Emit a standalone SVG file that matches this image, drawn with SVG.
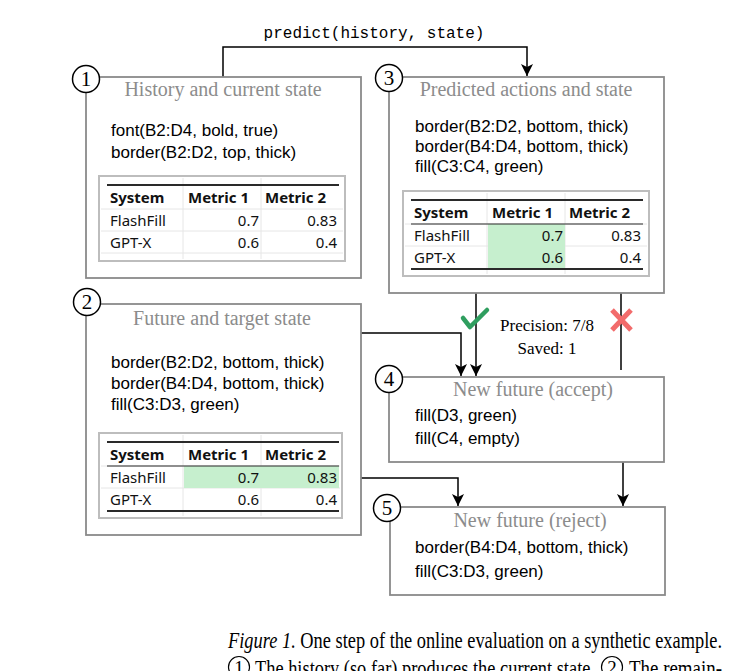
<svg xmlns="http://www.w3.org/2000/svg" width="740" height="671" viewBox="0 0 740 671">
<style>
.frame{fill:#fff;stroke:#8a8a8a;stroke-width:1.8}
.title{font-family:"Liberation Serif",serif;font-size:20px;fill:#8c8c8c;text-anchor:middle}
.code{font-family:"Liberation Sans",Arial,sans-serif;font-size:17px;fill:#000}
.num{fill:#fff;stroke:#000;stroke-width:1.5}
.numt{font-family:"Liberation Serif",serif;font-size:21px;fill:#000;text-anchor:middle}
.tout{fill:#fff;stroke:#bdbdbd;stroke-width:2}
.grid{stroke:#e6e6e6;stroke-width:1}
.thick{stroke:#2a2a2a;stroke-width:2}
.thin{stroke:#2a2a2a;stroke-width:1.2}
.th{font-family:"Noto Sans",sans-serif;font-size:15px;font-weight:bold;fill:#111}
.td{font-family:"Noto Sans",sans-serif;font-size:15px;fill:#111}
.r{text-anchor:end}
.green{fill:#c6efce}
.conn{fill:none;stroke:#000;stroke-width:1.5}
.lbl{font-family:"Liberation Serif",serif;font-size:17px;fill:#000;text-anchor:middle}
.cap{font-family:"Liberation Serif",serif;font-size:24px;fill:#000}
</style>
<defs>
<marker id="arr" markerUnits="userSpaceOnUse" markerWidth="12" markerHeight="12" viewBox="0 0 12 12" refX="12" refY="6" orient="auto">
<path d="M0,0 L12,6 L0,12 L3,6 z" fill="#000"/>
</marker>
</defs>

<g id="connectors">
<text x="374" y="38" style="font-family:'Liberation Mono',monospace;font-size:16px;fill:#000" text-anchor="middle">predict(history, state)</text>
<path class="conn" d="M223,77 V47 H527 V76" marker-end="url(#arr)"/>
<path class="conn" d="M476,293 V376" marker-end="url(#arr)"/>
<path class="conn" d="M361,333 H461 V376" marker-end="url(#arr)"/>
<path class="conn" d="M621,293 V370"/>
<path class="conn" d="M623,462 V506" marker-end="url(#arr)"/>
<path class="conn" d="M361,478 H458 V506" marker-end="url(#arr)"/>
<path d="M463,318 L470,327 L487,310" fill="none" stroke="#2f9e5f" stroke-width="4.5" stroke-linecap="round" stroke-linejoin="round"/>
<path d="M612,310 L631,330 M631,310 L612,330" fill="none" stroke="#f26b6b" stroke-width="5"/>
<text class="lbl" x="547" y="331">Precision: 7/8</text>
<text class="lbl" x="547" y="354">Saved: 1</text>
</g>

<g id="node1">
<rect class="frame" x="86" y="77" width="275" height="201"/>
<circle class="num" cx="86" cy="79" r="13.5"/>
<text class="numt" x="86" y="86">1</text>
<text class="title" x="223" y="96">History and current state</text>
<text class="code" x="111" y="136">font(B2:D4, bold, true)</text>
<text class="code" x="111" y="158">border(B2:D2, top, thick)</text>
<g transform="translate(99,176)">
<rect class="tout" x="0" y="0" width="246" height="85"/>
<path class="grid" d="M84,2 V83 M162,2 V83 M2,33 H244 M2,55 H244 M2,77 H244"/>
<line class="thick" x1="8" y1="9" x2="240" y2="9"/>
<text class="th" x="11" y="27">System</text>
<text class="th" x="89" y="27">Metric 1</text>
<text class="th" x="166" y="27">Metric 2</text>
<text class="td" x="11" y="50">FlashFill</text>
<text class="td r" x="160" y="50">0.7</text>
<text class="td r" x="238" y="50">0.83</text>
<text class="td" x="11" y="72">GPT-X</text>
<text class="td r" x="160" y="72">0.6</text>
<text class="td r" x="238" y="72">0.4</text>
</g>
</g>

<g id="node3">
<rect class="frame" x="389" y="77" width="275" height="216"/>
<circle class="num" cx="389" cy="78" r="13.5"/>
<text class="numt" x="389" y="85">3</text>
<text class="title" x="526" y="96">Predicted actions and state</text>
<text class="code" x="415" y="132">border(B2:D2, bottom, thick)</text>
<text class="code" x="415" y="152">border(B4:D4, bottom, thick)</text>
<text class="code" x="415" y="172">fill(C3:C4, green)</text>
<g transform="translate(403,191)">
<rect class="tout" x="0" y="0" width="246" height="85"/>
<path class="grid" d="M84,2 V83 M162,2 V83 M2,33 H244 M2,55 H244"/>
<rect class="green" x="85" y="33" width="77" height="45"/>
<line class="thick" x1="8" y1="9" x2="240" y2="9"/>
<line class="thin" x1="8" y1="33" x2="240" y2="33"/>
<line class="thick" x1="8" y1="78" x2="240" y2="78"/>
<text class="th" x="11" y="27">System</text>
<text class="th" x="89" y="27">Metric 1</text>
<text class="th" x="166" y="27">Metric 2</text>
<text class="td" x="11" y="50">FlashFill</text>
<text class="td r" x="160" y="50">0.7</text>
<text class="td r" x="238" y="50">0.83</text>
<text class="td" x="11" y="72">GPT-X</text>
<text class="td r" x="160" y="72">0.6</text>
<text class="td r" x="238" y="72">0.4</text>
</g>
</g>

<g id="node2">
<rect class="frame" x="86" y="304" width="275" height="231"/>
<circle class="num" cx="87" cy="302" r="13.5"/>
<text class="numt" x="87" y="309">2</text>
<text class="title" x="222" y="325">Future and target state</text>
<text class="code" x="111" y="368">border(B2:D2, bottom, thick)</text>
<text class="code" x="111" y="389">border(B4:D4, bottom, thick)</text>
<text class="code" x="111" y="410">fill(C3:D3, green)</text>
<g transform="translate(99,433)">
<rect class="tout" x="0" y="0" width="243" height="85"/>
<path class="grid" d="M84,2 V83 M162,2 V83 M2,33 H241 M2,55 H241"/>
<rect class="green" x="85" y="33" width="155" height="22"/>
<line class="thick" x1="8" y1="9" x2="240" y2="9"/>
<line class="thin" x1="8" y1="33" x2="240" y2="33"/>
<line class="thick" x1="8" y1="78" x2="240" y2="78"/>
<text class="th" x="11" y="27">System</text>
<text class="th" x="89" y="27">Metric 1</text>
<text class="th" x="166" y="27">Metric 2</text>
<text class="td" x="11" y="50">FlashFill</text>
<text class="td r" x="160" y="50">0.7</text>
<text class="td r" x="238" y="50">0.83</text>
<text class="td" x="11" y="72">GPT-X</text>
<text class="td r" x="160" y="72">0.6</text>
<text class="td r" x="238" y="72">0.4</text>
</g>
</g>

<g id="node4">
<rect class="frame" x="389" y="377" width="275" height="85"/>
<circle class="num" cx="389" cy="379" r="13.5"/>
<text class="numt" x="389" y="386">4</text>
<text class="title" x="533" y="396">New future (accept)</text>
<text class="code" x="415" y="421">fill(D3, green)</text>
<text class="code" x="415" y="444">fill(C4, empty)</text>
</g>

<g id="node5">
<rect class="frame" x="390" y="507" width="275" height="88"/>
<circle class="num" cx="387" cy="508" r="13.5"/>
<text class="numt" x="387" y="515">5</text>
<text class="title" x="530" y="527">New future (reject)</text>
<text class="code" x="415" y="553">border(B4:D4, bottom, thick)</text>
<text class="code" x="415" y="577">fill(C3:D3, green)</text>
</g>

<g id="caption">
<text class="cap" x="228" y="648" textLength="494" lengthAdjust="spacingAndGlyphs"><tspan font-style="italic">Figure 1.</tspan> One step of the online evaluation on a synthetic example.</text>
<circle cx="239" cy="667" r="10.5" fill="none" stroke="#000" stroke-width="1.2"/>
<text class="cap" x="239" y="674" text-anchor="middle" style="font-size:19px">1</text>
<text class="cap" x="255" y="676" textLength="340" lengthAdjust="spacingAndGlyphs">The history (so far) produces the current state.</text>
<circle cx="612" cy="667" r="10.5" fill="none" stroke="#000" stroke-width="1.2"/>
<text class="cap" x="612" y="674" text-anchor="middle" style="font-size:19px">2</text>
<text class="cap" x="629" y="676" textLength="93" lengthAdjust="spacingAndGlyphs">The remain-</text>
</g>
</svg>
